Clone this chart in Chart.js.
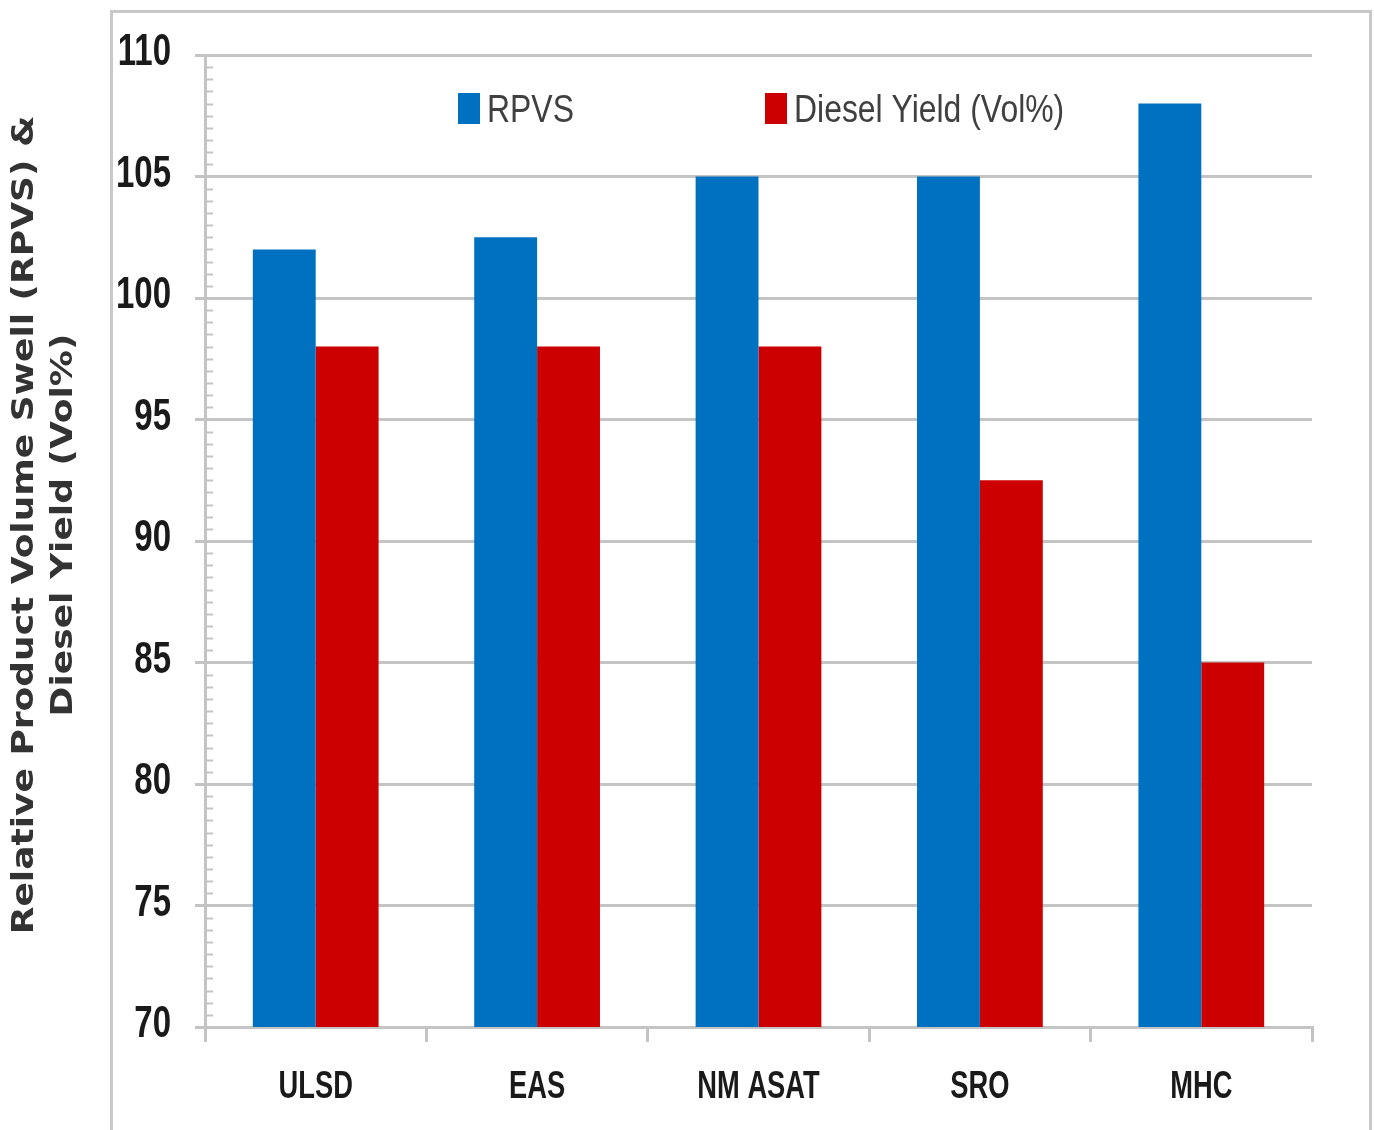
<!DOCTYPE html>
<html>
<head>
<meta charset="utf-8">
<script src="https://cdn.jsdelivr.net/npm/chart.js@4.4.1/dist/chart.umd.min.js"></script>
<style>
  html, body { margin: 0; padding: 0; background: #ffffff; }
  #wrap { width: 1374px; height: 1130px; position: relative; }
</style>
</head>
<body>
<div id="wrap"><canvas id="c" width="1374" height="1130"></canvas></div>
<script>
const categories = ["ULSD", "EAS", "NM ASAT", "SRO", "MHC"];
const rpvsValues = [102, 102.5, 105, 105, 108];
const dieselValues = [98, 98, 98, 92.5, 85];
const seriesLabels = ["RPVS", "Diesel Yield (Vol%)"];
const yTitleLines = ["Relative Product Volume Swell (RPVS) &", "Diesel Yield (Vol%)"];
const yMin = 70, yMax = 110, yStep = 5, yMinorStep = 0.5;

const BLUE = "#0070C0";
const RED = "#CC0000";
const GRID = "#c4c4c4";
const SANS = "'Liberation Sans', Arial, sans-serif";

const textDecor = {
  id: "textDecor",
  beforeDraw(chart) {
    const ctx = chart.ctx;
    ctx.save();
    ctx.strokeStyle = "#c8c8c8";
    ctx.lineWidth = 3;
    ctx.strokeRect(111.5, 11.5, 1259, 1130);
    ctx.restore();
  },
  afterDraw(chart) {
    const ctx = chart.ctx;
    const ys = chart.scales.y;
    const xs = chart.scales.x;
    const area = chart.chartArea;
    ctx.save();

    // minor ticks on the inner side of the value axis
    ctx.strokeStyle = GRID;
    ctx.lineWidth = 2;
    for (let v = yMin; v <= yMax + 1e-9; v += yMinorStep) {
      if (Math.abs(v / yStep - Math.round(v / yStep)) < 1e-9) continue;
      const py = Math.round(ys.getPixelForValue(v)) + 0.5;
      ctx.beginPath();
      ctx.moveTo(area.left, py);
      ctx.lineTo(area.left + 8, py);
      ctx.stroke();
    }

    // y tick labels (condensed)
    ctx.fillStyle = "#1a1a1a";
    ctx.font = "bold 44px " + SANS;
    ctx.textAlign = "right";
    ctx.textBaseline = "middle";
    ys.ticks.forEach(t => {
      const py = ys.getPixelForValue(t.value);
      ctx.save();
      ctx.translate(171, py - 2);
      ctx.scale(0.75, 1);
      ctx.fillText(String(t.label), 0, 0);
      ctx.restore();
    });

    // x category labels (condensed)
    ctx.font = "bold 39px " + SANS;
    ctx.textAlign = "center";
    ctx.textBaseline = "alphabetic";
    chart.data.labels.forEach((lab, i) => {
      const px = xs.getPixelForValue(i);
      ctx.save();
      ctx.translate(px, 1098);
      ctx.scale(0.7, 1);
      ctx.fillText(lab, 0, 0);
      ctx.restore();
    });

    // y axis title (two lines, rotated, stretched along the text)
    ctx.fillStyle = "#333333";
    ctx.font = "bold 30px 'DejaVu Sans', sans-serif";
    ctx.textAlign = "center";
    ctx.textBaseline = "alphabetic";
    const baseXs = [33, 72];
    yTitleLines.forEach((line, i) => {
      ctx.save();
      ctx.translate(baseXs[i], 525);
      ctx.rotate(-Math.PI / 2);
      ctx.scale(1.2, 1);
      ctx.fillText(line, 0, 0);
      ctx.restore();
    });

    // legend inside plot area
    const items = chart.data.datasets.map(d => ({ label: d.label, color: d.backgroundColor }));
    const boxXs = [458, 765];
    ctx.font = "38px " + SANS;
    ctx.textAlign = "left";
    ctx.textBaseline = "alphabetic";
    items.forEach((it, i) => {
      ctx.fillStyle = it.color;
      ctx.fillRect(boxXs[i], 93, 22, 31);
      ctx.fillStyle = "#404040";
      ctx.save();
      ctx.translate(boxXs[i] + 29, 122);
      ctx.scale(0.84, 1);
      ctx.fillText(it.label, 0, 0);
      ctx.restore();
    });
    ctx.restore();
  }
};

new Chart(document.getElementById("c"), {
  type: "bar",
  data: {
    labels: categories,
    datasets: [
      { label: seriesLabels[0], data: rpvsValues, backgroundColor: BLUE, borderWidth: 0 },
      { label: seriesLabels[1], data: dieselValues, backgroundColor: RED, borderWidth: 0 }
    ]
  },
  options: {
    responsive: false,
    animation: false,
    devicePixelRatio: 1,
    layout: { padding: { left: 0, top: 55, right: 62, bottom: 0 } },
    datasets: { bar: { categoryPercentage: 0.568, barPercentage: 1.0 } },
    plugins: {
      legend: { display: false },
      tooltip: { enabled: false },
      title: { display: false }
    },
    scales: {
      x: {
        grid: {
          offset: true,
          drawOnChartArea: false,
          drawTicks: true,
          tickLength: 15,
          color: GRID,
          lineWidth: 3
        },
        border: { display: true, color: GRID, width: 3 },
        ticks: { display: false },
        afterFit(scale) { scale.height = 103; }
      },
      y: {
        min: yMin,
        max: yMax,
        ticks: { stepSize: yStep, display: false },
        grid: {
          color: GRID,
          lineWidth: 3,
          tickLength: 10,
          drawTicks: true
        },
        border: { display: true, color: GRID, width: 3 },
        title: { display: false },
        afterFit(scale) { scale.width = 205; }
      }
    }
  },
  plugins: [textDecor]
});
</script>
</body>
</html>
